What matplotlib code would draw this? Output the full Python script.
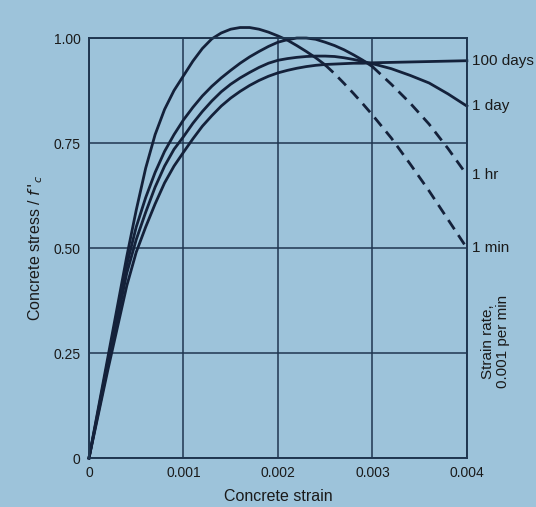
import numpy as np
import matplotlib
matplotlib.use("Agg")
import matplotlib.pyplot as plt

plt.rcParams['font.family'] = ['Liberation Sans', 'DejaVu Sans']

# strain values
strain = [0, 0.0001, 0.0002, 0.0003, 0.0004, 0.0005, 0.0006, 0.0007, 0.0008, 0.0009,
          0.001, 0.0011, 0.0012, 0.0013, 0.0014, 0.0015, 0.0016, 0.0017, 0.0018, 0.0019,
          0.002, 0.0021, 0.0022, 0.0023, 0.0024, 0.0025, 0.0026, 0.0027, 0.0028, 0.0029,
          0.003, 0.0032, 0.0034, 0.0036, 0.0038, 0.004]

# stress / f'c for each strain rate
stress_1min = [0, 0.12, 0.24, 0.36, 0.48, 0.59, 0.69, 0.77, 0.83, 0.875,
               0.91, 0.945, 0.975, 0.998, 1.012, 1.021, 1.025, 1.025, 1.021, 1.014,
               1.005, 0.995, 0.982, 0.968, 0.953, 0.936, 0.915, 0.892, 0.868, 0.843,
               0.817, 0.762, 0.700, 0.636, 0.568, 0.50]
stress_1hr = [0, 0.115, 0.23, 0.345, 0.46, 0.55, 0.62, 0.68, 0.73, 0.77,
              0.805, 0.835, 0.862, 0.885, 0.905, 0.923, 0.94, 0.955, 0.968, 0.98,
              0.99, 0.996, 1.0, 1.0, 0.997, 0.99, 0.982, 0.972, 0.96, 0.947,
              0.932, 0.89, 0.845, 0.795, 0.737, 0.674]
stress_1day = [0, 0.11, 0.22, 0.33, 0.44, 0.52, 0.585, 0.645, 0.695, 0.735,
               0.765, 0.797, 0.825, 0.85, 0.872, 0.89, 0.905, 0.918, 0.93, 0.94,
               0.947, 0.951, 0.954, 0.956, 0.957, 0.957, 0.956, 0.953, 0.949, 0.944,
               0.939, 0.927, 0.911, 0.893, 0.867, 0.838]
stress_100d = [0, 0.105, 0.21, 0.31, 0.41, 0.49, 0.55, 0.605, 0.655, 0.695,
               0.728, 0.76, 0.79, 0.815, 0.838, 0.857, 0.873, 0.887, 0.899, 0.909,
               0.917, 0.923, 0.928, 0.932, 0.935, 0.937, 0.938, 0.939, 0.94, 0.94,
               0.941, 0.942, 0.943, 0.944, 0.945, 0.946]

labels = ["1 min", "1 hr", "1 day", "100 days"]
dash_from = [0.0025, 0.003, None, None]  # where the curve turns dashed

bg = "#9dc3da"
ink = "#14213a"

fig = plt.figure(figsize=(5.36, 5.07), dpi=100, facecolor=bg)
ax = fig.add_axes([0.166, 0.0966, 0.705, 0.8284], facecolor=bg)

x = np.array(strain)
for ys, lab, d in zip([stress_1min, stress_1hr, stress_1day, stress_100d], labels, dash_from):
    y = np.array(ys)
    if d is None:
        ax.plot(x, y, color=ink, lw=2, clip_on=False)
    else:
        m1 = x <= d + 1e-9
        m2 = x >= d - 1e-9
        ax.plot(x[m1], y[m1], color=ink, lw=2, clip_on=False)
        ax.plot(x[m2], y[m2], color=ink, lw=2, ls=(0, (4, 2.5)), clip_on=False)
    ax.text(0.00405, y[-1], lab, va="center", ha="left", fontsize=11, color="#1a1a1a")

ax.set_xlim(0, 0.004)
ax.set_ylim(0, 1.0)
ax.set_xticks([0, 0.001, 0.002, 0.003, 0.004])
ax.set_xticklabels(["0", "0.001", "0.002", "0.003", "0.004"])
ax.set_yticks([0, 0.25, 0.5, 0.75, 1.0])
ax.set_yticklabels(["0", "0.25", "0.50", "0.75", "1.00"])
ax.tick_params(length=0, labelsize=10, colors="#1a1a1a", pad=6)
ax.grid(True, color="#1f3650", lw=1.1)
for s in ax.spines.values():
    s.set_color("#1f3650")
    s.set_linewidth(1.4)

ax.set_xlabel("Concrete strain", fontsize=11.5, color="#1a1a1a", labelpad=6)
ax.set_ylabel("Concrete stress / $f\\,'_c$", fontsize=11.5, color="#1a1a1a", labelpad=6)

fig.text(0.925, 0.327, "Strain rate,\n0.001 per min", rotation=90, ha="center", va="center",
         fontsize=11, color="#1a1a1a", linespacing=1.1)

fig.savefig("out.png", dpi=100, facecolor=bg)
